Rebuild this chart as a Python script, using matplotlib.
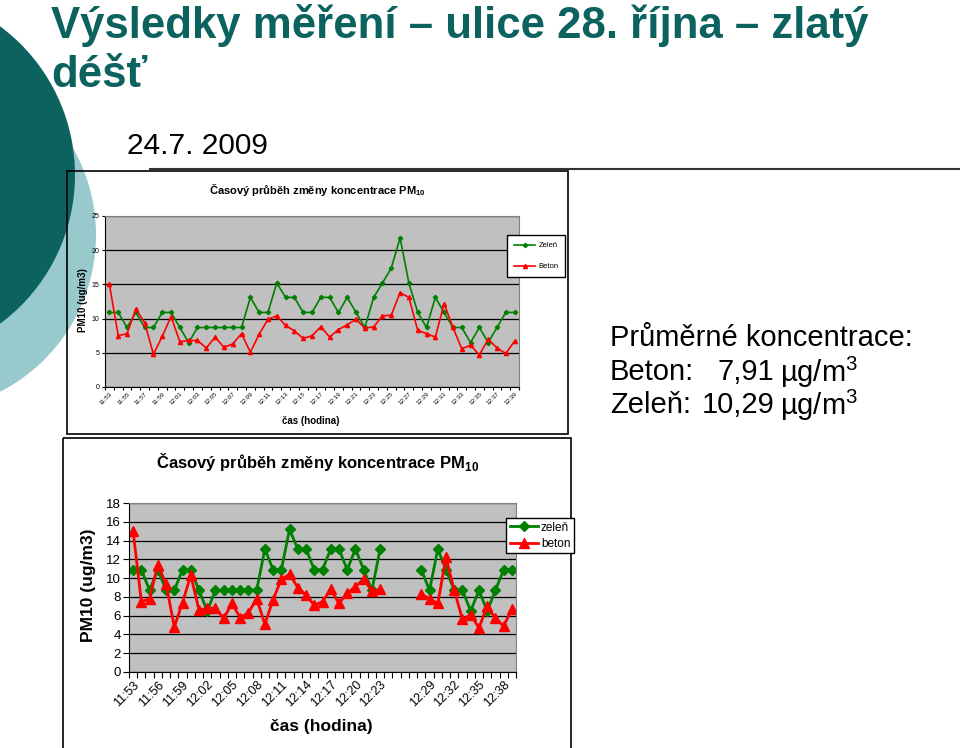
import numpy as np
import matplotlib
matplotlib.use("Agg")
import matplotlib.pyplot as plt
from matplotlib.patches import Circle, Rectangle

plt.rcParams['font.family'] = ['Liberation Sans', 'DejaVu Sans']
plt.rcParams['mathtext.fontset'] = 'custom'
plt.rcParams['mathtext.rm'] = 'Liberation Sans'
plt.rcParams['mathtext.bf'] = 'Liberation Sans:bold'

# measurement times, 24.7.2009
times = ['11:53', '11:54', '11:55', '11:56', '11:57', '11:58', '11:59',
         '12:00', '12:01', '12:02', '12:03', '12:04', '12:05', '12:06', '12:07',
         '12:08', '12:09', '12:10', '12:11', '12:12', '12:13', '12:14', '12:15',
         '12:16', '12:17', '12:18', '12:19', '12:20', '12:21', '12:22', '12:23',
         '12:24', '12:25', '12:26', '12:27', '12:28', '12:29', '12:30', '12:31',
         '12:32', '12:33', '12:34', '12:35', '12:36', '12:37', '12:38', '12:39']

# PM10 (ug/m3)
zelen = [10.9, 10.9, 8.7, 10.9, 8.7, 8.7, 10.9, 10.9, 8.7, 6.5,
         8.7, 8.7, 8.7, 8.7, 8.7, 8.7, 13.1, 10.9, 10.9, 15.2,
         13.1, 13.1, 10.9, 10.9, 13.1, 13.1, 10.9, 13.1, 10.9, 8.7,
         13.1, 15.2, 17.4, 21.8, 15.2, 10.9, 8.7, 13.1, 10.9, 8.7,
         8.7, 6.5, 8.7, 6.5, 8.7, 10.9, 10.9]
beton = [15.0, 7.5, 7.8, 11.4, 9.4, 4.8, 7.4, 10.3, 6.6, 6.8,
         6.8, 5.7, 7.3, 5.8, 6.3, 7.8, 5.1, 7.7, 9.9, 10.4,
         9.0, 8.2, 7.1, 7.5, 8.8, 7.3, 8.4, 9.1, 9.9, 8.6,
         8.8, 10.4, 10.5, 13.8, 13.1, 8.3, 7.8, 7.3, 12.2, 8.7,
         5.6, 6.1, 4.7, 7.0, 5.7, 4.9, 6.7]

# minutes left out of the second chart
missing = ['12:24', '12:25', '12:26', '12:27']
labels2 = ['11:53', '11:56', '11:59', '12:02', '12:05', '12:08', '12:11', '12:14',
           '12:17', '12:20', '12:23', '12:29', '12:32', '12:35', '12:38']

avg_beton = '7,91'
avg_zelen = '10,29'

W, H = 960, 748
GREEN = '#008000'
RED = '#ff0000'
TEAL = '#0b625f'
LIGHT = '#98c9cd'


def px_axes(fig, x0, y0, x1, y1):
    """axes placed by pixel box (y from top)"""
    return fig.add_axes([x0 / W, 1 - y1 / H, (x1 - x0) / W, (y1 - y0) / H])


def style_chart(ax, ymax, ystep, tick_fs, minor_len):
    ax.set_facecolor('#c0c0c0')
    ax.set_xlim(-0.5, len(times) - 0.5)
    ax.set_ylim(0, ymax)
    ax.set_yticks(np.arange(0, ymax + 1, ystep))
    ax.yaxis.grid(True, color='black', lw=0.9)
    ax.set_axisbelow(True)
    ax.tick_params(axis='y', labelsize=tick_fs, length=minor_len, width=0.8, pad=2)
    ax.tick_params(axis='x', which='major', length=0, labelsize=tick_fs - 0.5, pad=minor_len + 1)
    ax.set_xticks(np.arange(-0.5, len(times), 1), minor=True)
    ax.tick_params(axis='x', which='minor', length=minor_len, width=0.8)
    for side in ['top', 'right']:
        ax.spines[side].set_color('#808080')
    for side in ['left', 'bottom']:
        ax.spines[side].set_color('black')


fig = plt.figure(figsize=(W / 100, H / 100), dpi=100)

# slide background in pixel coordinates
bg = fig.add_axes([0, 0, 1, 1])
bg.set_xlim(0, W)
bg.set_ylim(H, 0)
bg.axis('off')
bg.add_patch(Circle((-80, 235), 176, color=LIGHT, lw=0))
bg.add_patch(Circle((-110, 175), 185, color=TEAL, lw=0))

bg.text(51, 25, 'Výsledky měření – ulice 28. října – zlatý', color=TEAL, fontsize=31.5,
        fontweight='bold', va='center')
bg.text(51, 75, 'déšť', color=TEAL, fontsize=31.5, fontweight='bold', va='center')
bg.text(127, 146, '24.7. 2009', fontsize=21.5, va='center')
bg.plot([150, 960], [169, 169], color='#333333', lw=1.5)

# chart frames
bg.add_patch(Rectangle((67, 171), 501, 263, fill=False, ec='black', lw=1.2))
bg.add_patch(Rectangle((63, 438), 508, 330, fill=False, ec='black', lw=1.2))

# averages
bg.text(610, 338, 'Průměrné koncentrace:', fontsize=21, va='center')
bg.text(610, 372, 'Beton:', fontsize=21, va='center')
bg.text(774, 372, avg_beton, fontsize=21, va='center', ha='right')
bg.text(780, 372, 'µg/m$^{3}$', fontsize=21, va='center')
bg.text(610, 405, 'Zeleň:', fontsize=21, va='center')
bg.text(774, 405, avg_zelen, fontsize=21, va='center', ha='right')
bg.text(780, 405, 'µg/m$^{3}$', fontsize=21, va='center')

x = np.arange(len(times))

# ---- top chart: all minutes ----
ax1 = px_axes(fig, 105, 216, 519, 387)
style_chart(ax1, 25, 5, 5, 2)
l1, = ax1.plot(x, zelen, color=GREEN, marker='D', ms=2.2, lw=1.2)
l2, = ax1.plot(x, beton, color=RED, marker='^', ms=3, lw=1.2)
ax1.set_xticks(x[::2])
ax1.set_xticklabels(times[::2], rotation=45, ha='right', rotation_mode='anchor')

bg.text(317, 190, 'Časový průběh změny koncentrace PM$_{\\mathbf{10}}$', fontsize=8,
        fontweight='bold', ha='center', va='center')
bg.text(83, 300, 'PM10 (ug/m3)', fontsize=7, fontweight='bold', rotation=90,
        ha='center', va='center')
bg.text(311, 421, 'čas (hodina)', fontsize=7, fontweight='bold', ha='center', va='center')

fig.legend([l1, l2], ['Zeleň', 'Beton'], loc='upper left',
           bbox_to_anchor=(507 / W, 1 - 235 / H), fontsize=5.5, frameon=True,
           fancybox=False, edgecolor='black', framealpha=1, handlelength=2.8,
           labelspacing=1.8, borderpad=0.9, handletextpad=0.4, borderaxespad=0)

# ---- bottom chart: gap without the peak minutes ----
zelen2 = np.array(zelen, dtype=float)
beton2 = np.array(beton, dtype=float)
for t in missing:
    zelen2[times.index(t)] = np.nan
    beton2[times.index(t)] = np.nan

ax2 = px_axes(fig, 129, 503, 516, 672)
style_chart(ax2, 18, 2, 9.5, 4)
m1, = ax2.plot(x, zelen2, color=GREEN, marker='D', ms=5.5, lw=2)
m2, = ax2.plot(x, beton2, color=RED, marker='^', ms=6.5, lw=2)
ax2.set_xticks([times.index(t) for t in labels2])
ax2.set_xticklabels(labels2, rotation=45, ha='right', rotation_mode='anchor')

bg.text(318, 462, 'Časový průběh změny koncentrace PM$_{\\mathbf{10}}$', fontsize=12,
        fontweight='bold', ha='center', va='center')
bg.text(88, 585, 'PM10 (ug/m3)', fontsize=12.5, fontweight='bold', rotation=90,
        ha='center', va='center')
bg.text(321, 726, 'čas (hodina)', fontsize=12.5, fontweight='bold', ha='center', va='center')

fig.legend([m1, m2], ['zeleň', 'beton'], loc='upper left',
           bbox_to_anchor=(506 / W, 1 - 518 / H), fontsize=8.5, frameon=True,
           fancybox=False, edgecolor='black', framealpha=1, handlelength=2.4,
           labelspacing=0.35, borderpad=0.3, handletextpad=0.25, borderaxespad=0)

fig.savefig('out.png', dpi=100)
